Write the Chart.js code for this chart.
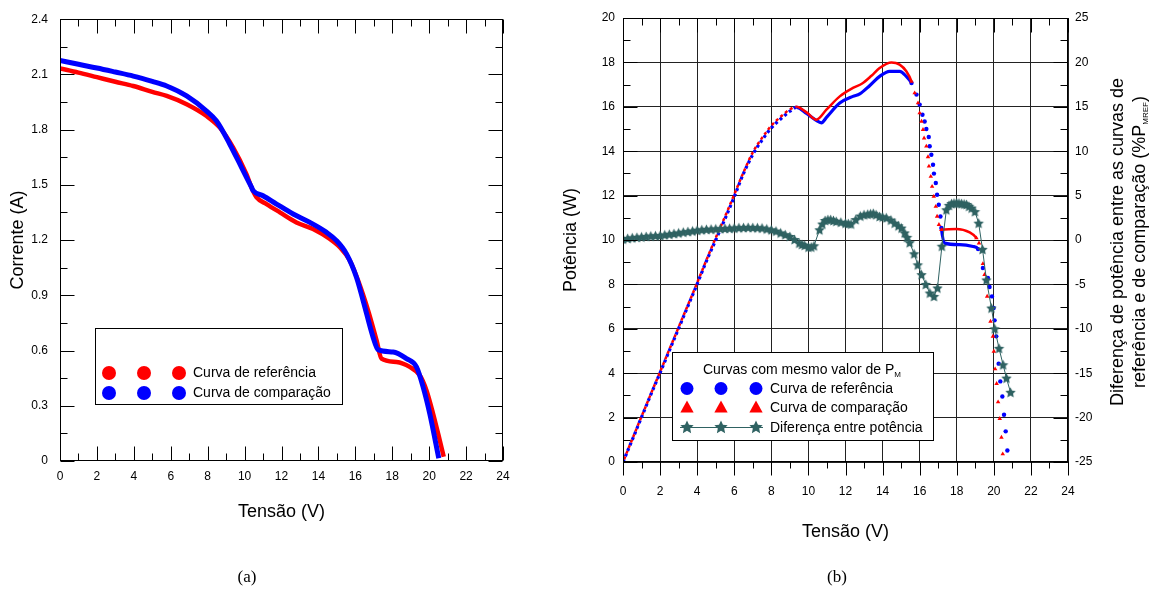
<!DOCTYPE html>
<html>
<head>
<meta charset="utf-8">
<script src="https://cdn.jsdelivr.net/npm/chart.js@4.4.1/dist/chart.umd.min.js"></script>
<style>
    body { margin: 0; width: 1152px; height: 589px; background: #fff; position: relative; overflow: hidden; }
    .painel { position: absolute; top: 0; height: 589px; }
    .legenda { position: absolute; top: 567px; width: 60px; text-align: center;
               font: 17px "Liberation Serif", "Times New Roman", serif; color: #000; }
</style>
</head>
<body>
<div class="painel" style="left:0; width:560px;"><canvas id="graficoIV"></canvas></div>
<div class="painel" style="left:560px; width:592px;"><canvas id="graficoPV"></canvas></div>
<div class="legenda" style="left:217px;">(a)</div>
<div class="legenda" style="left:807px;">(b)</div>

<script>
// ---------- (a) curvas I-V ----------
const tensaoRefA    = [0, 1, 2, 3, 3.97, 5, 5.78, 6.86, 7.94, 8.66, 9.38, 10.1, 10.4, 10.65, 11.19, 11.91, 12.81, 13.71, 14.62, 15.16, 15.7, 16.15, 16.69, 17.15, 17.42, 18.23, 18.95, 19.49, 19.85, 20.21, 20.57, 20.79];
const correnteRefA  = [2.133, 2.11, 2.085, 2.06, 2.037, 2.005, 1.983, 1.938, 1.874, 1.811, 1.703, 1.558, 1.48, 1.432, 1.396, 1.351, 1.296, 1.26, 1.206, 1.161, 1.089, 0.98, 0.818, 0.655, 0.556, 0.538, 0.511, 0.466, 0.385, 0.258, 0.114, 0.023];
const tensaoCompA   = [0, 1, 2, 3, 3.97, 5, 5.78, 6.86, 7.94, 8.48, 9.2, 9.84, 10.38, 10.47, 11.0, 11.73, 12.63, 13.54, 14.44, 14.98, 15.52, 16.06, 16.42, 16.96, 17.23, 18.05, 18.77, 19.31, 19.67, 20.03, 20.52];
const correnteCompA = [2.176, 2.155, 2.135, 2.113, 2.091, 2.062, 2.037, 1.983, 1.901, 1.847, 1.721, 1.594, 1.486, 1.468, 1.441, 1.396, 1.342, 1.296, 1.242, 1.197, 1.125, 0.998, 0.872, 0.673, 0.605, 0.592, 0.556, 0.511, 0.403, 0.258, 0.015];

// ---------- (b) curvas P-V e diferença ----------
const tensaoRefB    = [0, 0.5, 1, 1.5, 2, 2.5, 3, 3.5, 4, 4.5, 5, 5.5, 6, 6.5, 7, 7.5, 8, 8.5, 9, 9.35, 9.9, 10.4, 10.7, 11.0, 11.69, 12.4, 12.77, 13.3, 13.84, 14.38, 14.92, 15.28, 15.56, 15.83, 16.0, 16.15, 16.27, 16.36, 16.49, 16.54, 16.63, 16.72, 16.77, 16.87, 16.94, 17.03, 17.12, 17.17, 17.35, 18.16, 18.88, 19.15, 19.41, 19.68, 19.77, 19.9, 19.99, 20.04, 20.13, 20.26, 20.35, 20.46, 20.55, 20.64, 20.73];
const potenciaRefB  = [0, 1.0, 2.02, 3.03, 4.02, 5.02, 6.02, 7.02, 8.02, 9.05, 10.0, 10.95, 11.95, 13.0, 13.85, 14.5, 15.05, 15.45, 15.8, 15.97, 15.7, 15.4, 15.28, 15.55, 16.17, 16.47, 16.58, 16.95, 17.37, 17.6, 17.6, 17.37, 17.07, 16.55, 16.1, 15.64, 15.34, 15.0, 14.64, 14.22, 13.84, 13.39, 12.99, 12.57, 12.04, 11.59, 11.06, 10.54, 9.86, 9.79, 9.71, 9.59, 8.74, 8.29, 7.88, 7.46, 6.94, 6.38, 5.66, 4.43, 3.63, 2.95, 2.13, 1.38, 0.52];
const tensaoCompB   = [0, 0.5, 1, 1.5, 2, 2.5, 3, 3.5, 4, 4.5, 5, 5.5, 6, 6.5, 7, 7.5, 8, 8.5, 9, 9.35, 9.9, 10.43, 10.97, 11.69, 12.4, 12.9, 13.4, 13.84, 14.48, 14.92, 15.28, 15.56, 15.73, 15.91, 16.0, 16.1, 16.18, 16.24, 16.36, 16.45, 16.5, 16.6, 16.67, 16.76, 16.87, 16.94, 17.04, 17.17, 17.98, 18.7, 19.06, 19.2, 19.41, 19.5, 19.64, 19.82, 19.95, 20.0, 20.07, 20.15, 20.23, 20.32, 20.41, 20.48];
const potenciaCompB = [0, 1.03, 2.05, 3.06, 4.06, 5.07, 6.07, 7.07, 8.07, 9.1, 10.1, 11.05, 12.05, 13.05, 13.95, 14.6, 15.15, 15.55, 15.88, 16.0, 15.75, 15.42, 15.87, 16.47, 16.85, 17.05, 17.4, 17.75, 18.0, 17.9, 17.6, 17.14, 16.62, 16.17, 15.72, 15.34, 14.97, 14.59, 14.22, 13.74, 13.32, 12.86, 12.41, 11.96, 11.51, 11.06, 10.69, 10.46, 10.5, 10.34, 10.09, 9.86, 8.93, 8.44, 7.46, 6.33, 5.66, 4.98, 4.19, 3.53, 2.7, 1.95, 1.11, 0.36];
const tensaoDifB    = [0, 0.25, 0.5, 0.75, 1, 1.25, 1.5, 1.75, 2, 2.25, 2.5, 2.75, 3, 3.25, 3.5, 3.75, 4, 4.25, 4.5, 4.75, 5, 5.25, 5.5, 5.75, 6, 6.25, 6.5, 6.75, 7, 7.25, 7.5, 7.75, 8, 8.25, 8.5, 8.75, 9, 9.25, 9.5, 9.65, 9.8, 10.0, 10.15, 10.3, 10.6, 10.75, 10.9, 11.05, 11.2, 11.35, 11.5, 11.75, 12.0, 12.15, 12.3, 12.55, 12.8, 13.0, 13.2, 13.35, 13.5, 13.65, 13.84, 14.0, 14.2, 14.45, 14.65, 14.85, 15.02, 15.19, 15.32, 15.46, 15.7, 15.9, 16.1, 16.33, 16.55, 16.77, 16.96, 17.2, 17.44, 17.58, 17.72, 17.85, 17.99, 18.12, 18.26, 18.4, 18.53, 18.66, 18.8, 18.98, 19.18, 19.39, 19.6, 19.87, 20.05, 20.28, 20.5, 20.68, 20.9];
const diferencaB    = [0.1, 0.18, 0.25, 0.3, 0.35, 0.4, 0.45, 0.48, 0.5, 0.58, 0.65, 0.72, 0.8, 0.88, 0.95, 1.02, 1.1, 1.15, 1.2, 1.22, 1.25, 1.28, 1.3, 1.32, 1.35, 1.38, 1.4, 1.42, 1.4, 1.38, 1.35, 1.25, 1.15, 1.0, 0.8, 0.6, 0.4, 0.05, -0.35, -0.5, -0.6, -0.8, -0.8, -0.65, 1.15, 1.8, 2.2, 2.3, 2.3, 2.2, 2.1, 2.0, 1.9, 1.85, 1.8, 2.3, 2.7, 2.85, 2.9, 2.95, 3.0, 2.85, 2.65, 2.6, 2.5, 2.25, 1.9, 1.6, 1.35, 0.8, 0.3, -0.3, -1.55, -2.8, -3.9, -5.0, -5.97, -6.35, -5.4, -0.7, 3.4, 3.9, 4.1, 4.15, 4.17, 4.15, 4.1, 4.05, 4.0, 3.8, 3.6, 3.2, 1.9, -1.05, -4.5, -7.66, -10.0, -12.2, -14.05, -15.55, -17.15];

// ticks dos eixos
const ticksTensao    = [0, 2, 4, 6, 8, 10, 12, 14, 16, 18, 20, 22, 24];
const ticksCorrente  = [0, 0.3, 0.6, 0.9, 1.2, 1.5, 1.8, 2.1, 2.4];
const ticksPotencia  = [0, 2, 4, 6, 8, 10, 12, 14, 16, 18, 20];
const ticksDiferenca = [-25, -20, -15, -10, -5, 0, 5, 10, 15, 20, 25];

const fonte = 'Arial, "Liberation Sans", sans-serif';
const VERMELHO = '#ff0000', AZUL = '#0000ff', VERDE = '#2f6262';

function pares(xs, ys) {
    return xs.map((x, i) => ({x: x, y: ys[i]}));
}

function criaEstrela(r, cor) {
    const c = document.createElement('canvas');
    const s = Math.ceil(2 * r + 2);
    c.width = s; c.height = s;
    const g = c.getContext('2d');
    g.translate(s / 2, s / 2 + 0.5);
    g.beginPath();
    for (let k = 0; k < 10; k++) {
        const rr = k % 2 ? r * 0.48 : r;
        const ang = -Math.PI / 2 + k * Math.PI / 5;
        g.lineTo(rr * Math.cos(ang), rr * Math.sin(ang));
    }
    g.closePath();
    g.fillStyle = cor;
    g.fill();
    return c;
}
const estrela = criaEstrela(5.5, VERDE);
const estrelaLegenda = criaEstrela(7, VERDE);

// marcas de escala (para dentro ou para fora) e moldura
function marcas(ctx, chart, escX, escY, escY2, passoX, passoY, passoY2, foraEmbaixo) {
    const a = chart.chartArea;
    const L = Math.round(a.left) + 0.5, R = Math.round(a.right) - 0.5;
    const T = Math.round(a.top) + 0.5, B = Math.round(a.bottom) - 0.5;
    ctx.save();
    ctx.strokeStyle = '#000';
    ctx.lineWidth = 1;
    ctx.strokeRect(L, T, R - L, B - T);
    ctx.beginPath();
    for (let v = escX.min; v <= escX.max + 1e-9; v += passoX) {
        const x = Math.round(escX.getPixelForValue(v)) + 0.5;
        const maior = Math.abs(v / (passoX * 2) - Math.round(v / (passoX * 2))) < 1e-6;
        const t = maior ? 14 : 7;
        ctx.moveTo(x, T); ctx.lineTo(x, T + t);
        if (foraEmbaixo) { ctx.moveTo(x, B); ctx.lineTo(x, B + t); }
        else { ctx.moveTo(x, B); ctx.lineTo(x, B - t); }
    }
    for (let v = escY.min; v <= escY.max + 1e-9; v += passoY) {
        const y = Math.round(escY.getPixelForValue(v)) + 0.5;
        const maior = Math.abs(v / (passoY * 2) - Math.round(v / (passoY * 2))) < 1e-6;
        const t = maior ? 14 : 7;
        ctx.moveTo(L, y); ctx.lineTo(L + t, y);
        if (!escY2) { ctx.moveTo(R, y); ctx.lineTo(R - t, y); }
    }
    if (escY2) {
        for (let v = escY2.min; v <= escY2.max + 1e-9; v += passoY2) {
            const y = Math.round(escY2.getPixelForValue(v)) + 0.5;
            const maior = Math.abs(v / (passoY2 * 2) - Math.round(v / (passoY2 * 2))) < 1e-6;
            const t = maior ? 14 : 7;
            ctx.moveTo(R, y); ctx.lineTo(R - t, y);
        }
    }
    ctx.stroke();
    ctx.restore();
}

function circulo(ctx, x, y, r, cor) {
    ctx.beginPath();
    ctx.arc(x, y, r, 0, Math.PI * 2);
    ctx.fillStyle = cor;
    ctx.fill();
}

function triangulo(ctx, x, y, r, cor) {
    ctx.beginPath();
    ctx.moveTo(x, y - r);
    ctx.lineTo(x + r * 0.95, y + r * 0.7);
    ctx.lineTo(x - r * 0.95, y + r * 0.7);
    ctx.closePath();
    ctx.fillStyle = cor;
    ctx.fill();
}

// texto com subscrito
function textoSub(ctx, base, sub, fim, x, y, tam, tamSub, centro) {
    ctx.font = tam + 'px ' + fonte;
    const w1 = ctx.measureText(base).width;
    const w3 = ctx.measureText(fim).width;
    ctx.font = tamSub + 'px ' + fonte;
    const w2 = ctx.measureText(sub).width;
    let x0 = centro ? x - (w1 + w2 + w3) / 2 : x;
    ctx.textAlign = 'left';
    ctx.textBaseline = 'alphabetic';
    ctx.font = tam + 'px ' + fonte;
    ctx.fillText(base, x0, y);
    ctx.font = tamSub + 'px ' + fonte;
    ctx.fillText(sub, x0 + w1, y + 3);
    ctx.font = tam + 'px ' + fonte;
    ctx.fillText(fim, x0 + w1 + w2, y);
}

const pluginIV = {
    id: 'extrasIV',
    afterDraw(chart) {
        const ctx = chart.ctx;
        marcas(ctx, chart, chart.scales.x, chart.scales.y, null, 1, 0.15, 0, false);
        // legenda
        ctx.save();
        ctx.fillStyle = '#fff';
        ctx.fillRect(95.5, 328.5, 247, 76);
        ctx.strokeStyle = '#000';
        ctx.lineWidth = 1;
        ctx.strokeRect(95.5, 328.5, 247, 76);
        [109, 144, 179].forEach(x => {
            circulo(ctx, x, 373, 7, VERMELHO);
            circulo(ctx, x, 393, 7, AZUL);
        });
        ctx.fillStyle = '#000';
        ctx.font = '14px ' + fonte;
        ctx.textBaseline = 'middle';
        ctx.fillText('Curva de referência', 193, 373);
        ctx.fillText('Curva de comparação', 193, 393);
        ctx.restore();
    }
};

const pluginPV = {
    id: 'extrasPV',
    afterDraw(chart) {
        const ctx = chart.ctx;
        marcas(ctx, chart, chart.scales.x, chart.scales.y, chart.scales.y2, 1, 1, 2.5, true);
        ctx.save();
        // título do eixo da direita
        ctx.fillStyle = '#000';
        ctx.translate(558, 242);
        ctx.rotate(-Math.PI / 2);
        ctx.font = '18px ' + fonte;
        ctx.textAlign = 'center';
        ctx.textBaseline = 'middle';
        ctx.fillText('Diferença de potência entre as curvas de', 0, 0);
        textoSub(ctx, 'referência e de comparação (%P', 'MREF', ')', 0, 27, 18, 8, true);
        ctx.restore();

        // legenda
        ctx.save();
        const ox = -560;
        ctx.fillStyle = '#fff';
        ctx.fillRect(672.5 + ox, 352.5, 261, 88);
        ctx.strokeStyle = '#000';
        ctx.lineWidth = 1;
        ctx.strokeRect(672.5 + ox, 352.5, 261, 88);
        ctx.fillStyle = '#000';
        textoSub(ctx, 'Curvas com mesmo valor de P', 'M', '', 802 + ox, 374, 14, 8, true);
        ctx.strokeStyle = VERDE;
        ctx.beginPath();
        ctx.moveTo(680 + ox, 427.5);
        ctx.lineTo(763 + ox, 427.5);
        ctx.stroke();
        [687, 721, 756].forEach(x => {
            circulo(ctx, x + ox, 388.5, 6.5, AZUL);
            triangulo(ctx, x + ox, 407.5, 7, VERMELHO);
            ctx.drawImage(estrelaLegenda, x + ox - estrelaLegenda.width / 2, 427 - estrelaLegenda.height / 2);
        });
        ctx.fillStyle = '#000';
        ctx.font = '14px ' + fonte;
        ctx.textAlign = 'left';
        ctx.textBaseline = 'middle';
        ctx.fillText('Curva de referência', 770 + ox, 389);
        ctx.fillText('Curva de comparação', 770 + ox, 408);
        ctx.fillText('Diferença entre potência', 770 + ox, 428);
        ctx.restore();
    }
};

function eixoX(ticks, padTick, padTitulo, altura) {
    return {
        type: 'linear', min: 0, max: 24,
        afterBuildTicks: s => { s.ticks = ticks.map(v => ({value: v})); },
        afterFit: s => { s.height = altura; },
        ticks: { autoSkip: false, maxRotation: 0, padding: padTick, color: '#000', font: {family: fonte, size: 12},
                 callback: v => String(v) },
        border: { display: false },
        title: { display: true, text: 'Tensão (V)', color: '#000', font: {family: fonte, size: 18},
                 padding: {top: 0, bottom: padTitulo} }
    };
}

// ---------- gráfico (a) ----------
new Chart(document.getElementById('graficoIV'), {
    type: 'scatter',
    data: {
        datasets: [{
            label: 'Curva de comparação',
            data: pares(tensaoCompA, correnteCompA),
            showLine: true,
            borderColor: AZUL,
            borderWidth: 5,
            pointRadius: 0,
            cubicInterpolationMode: 'monotone',
            order: 0
        }, {
            label: 'Curva de referência',
            data: pares(tensaoRefA, correnteRefA),
            showLine: true,
            borderColor: VERMELHO,
            borderWidth: 4.5,
            pointRadius: 0,
            cubicInterpolationMode: 'monotone',
            order: 1
        }]
    },
    options: {
        responsive: true,
        maintainAspectRatio: false,
        animation: false,
        layout: { padding: {top: 18, right: 57, bottom: 0, left: 0} },
        plugins: { legend: {display: false}, tooltip: {enabled: false} },
        scales: {
            x: Object.assign(eixoX(ticksTensao, 8, 66, 128), { grid: {display: false, drawTicks: false} }),
            y: {
                type: 'linear', min: 0, max: 2.4,
                afterBuildTicks: s => { s.ticks = ticksCorrente.map(v => ({value: v})); },
                afterFit: s => { s.width = 60; },
                grid: { display: false, drawTicks: false },
                border: { display: false },
                ticks: { autoSkip: false, padding: 12, color: '#000', font: {family: fonte, size: 12},
                         callback: v => String(v) },
                title: { display: true, text: 'Corrente (A)', color: '#000', font: {family: fonte, size: 18},
                         padding: {top: 7, bottom: 0} }
            }
        }
    },
    plugins: [pluginIV]
});

// ---------- gráfico (b) ----------
const faixasPontos = [[15.5, 17.2], [19.05, 21]];
const pontilhado = x => faixasPontos.some(f => x >= f[0] && x <= f[1]);
const segmentoOculto = c => pontilhado(c.p0.parsed.x) && pontilhado(c.p1.parsed.x) ? 'rgba(0,0,0,0)' : undefined;

new Chart(document.getElementById('graficoPV'), {
    type: 'scatter',
    data: {
        datasets: [{
            label: 'Diferença entre potência',
            data: pares(tensaoDifB, diferencaB),
            yAxisID: 'y2',
            showLine: true,
            borderColor: VERDE,
            borderWidth: 1,
            pointStyle: estrela,
            pointRadius: 5,
            order: 0
        }, {
            label: 'Curva de comparação',
            data: pares(tensaoCompB, potenciaCompB),
            yAxisID: 'y',
            showLine: true,
            borderColor: VERMELHO,
            backgroundColor: VERMELHO,
            borderWidth: 2.5,
            pointStyle: 'triangle',
            pointBorderWidth: 0,
            pointRadius: c => pontilhado(c.raw.x) ? 2.6 : 0,
            cubicInterpolationMode: 'monotone',
            segment: {
                borderColor: segmentoOculto,
                borderDash: c => c.p1.parsed.x <= 9.4 ? [3, 3] : undefined,
                borderDashOffset: c => c.p1.parsed.x <= 9.4 ? 3 : undefined
            },
            order: 1
        }, {
            label: 'Curva de referência',
            data: pares(tensaoRefB, potenciaRefB),
            yAxisID: 'y',
            showLine: true,
            borderColor: AZUL,
            backgroundColor: AZUL,
            borderWidth: 3.2,
            pointBorderWidth: 0,
            pointRadius: c => pontilhado(c.raw.x) ? 2.2 : 0,
            cubicInterpolationMode: 'monotone',
            segment: {
                borderColor: segmentoOculto,
                borderDash: c => c.p1.parsed.x <= 9.4 ? [3, 3] : undefined
            },
            order: 2
        }]
    },
    options: {
        responsive: true,
        maintainAspectRatio: false,
        animation: false,
        layout: { padding: {top: 18, right: 0, bottom: 0, left: 0} },
        plugins: { legend: {display: false}, tooltip: {enabled: false} },
        scales: {
            x: Object.assign(eixoX(ticksTensao, 22, 46, 127), {
                grid: { color: '#222', lineWidth: 1, drawTicks: false }
            }),
            y: {
                type: 'linear', position: 'left', min: 0, max: 20,
                afterBuildTicks: s => { s.ticks = ticksPotencia.map(v => ({value: v})); },
                afterFit: s => { s.width = 63; },
                grid: { color: '#222', lineWidth: 1, drawTicks: false },
                border: { display: false },
                ticks: { autoSkip: false, padding: 8, color: '#000', font: {family: fonte, size: 12},
                         callback: v => String(v) },
                title: { display: true, text: 'Potência (W)', color: '#000', font: {family: fonte, size: 18},
                         padding: {top: 0, bottom: 0} }
            },
            y2: {
                type: 'linear', position: 'right', min: -25, max: 25,
                afterBuildTicks: s => { s.ticks = ticksDiferenca.map(v => ({value: v})); },
                afterFit: s => { s.width = 84; },
                grid: { display: false, drawTicks: false },
                border: { display: false },
                ticks: { autoSkip: false, padding: 7, color: '#000', font: {family: fonte, size: 12},
                         callback: v => String(v) }
            }
        }
    },
    plugins: [pluginPV]
});
</script>
</body>
</html>
